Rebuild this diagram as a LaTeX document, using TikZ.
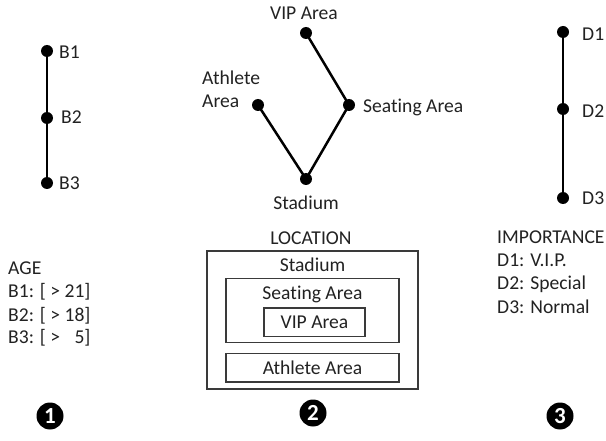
\documentclass[tikz,border=0pt]{standalone}
\usepackage{fontspec}
\setmainfont{Carlito}[Ligatures=NoCommon]
\definecolor{txt}{HTML}{222222}
\definecolor{boxc}{HTML}{3A3A3A}
\begin{document}
\begin{tikzpicture}[x=1pt,y=-1pt,
  dot/.style={circle,fill=black,inner sep=0pt,minimum size=12pt},
  edge/.style={line width=2.5pt},
  lbl/.style={font=\fontsize{19.6}{23}\selectfont,text=txt,inner sep=0pt},
  boxline/.style={draw=boxc,line width=1.5pt},
  badge/.style={circle,fill=black,text=white,inner sep=0pt,minimum size=27pt,font=\fontsize{23}{23}\selectfont\bfseries}]
\useasboundingbox (0,0) rectangle (606,441);
\fill[white] (0,0) rectangle (606,441);

% ---------- graph 1 ----------
\node[dot] (b1) at (47,51) {};
\node[dot] (b2) at (47,118) {};
\node[dot] (b3) at (47,183) {};
\draw[edge] (b1.center) -- (b2.center) -- (b3.center);
\node[lbl,anchor=base west] (b1l) at (59,58.5) {B1};
\node[lbl,anchor=base west] (b2l) at (61,124) {B2};
\node[lbl,anchor=base west] (b3l) at (59,189.5) {B3};

% ---------- graph 2 ----------
\node[dot] (vip) at (306,33) {};
\node[dot] (seat) at (349,105) {};
\node[dot] (ath) at (258,105) {};
\node[dot] (stad) at (306,179) {};
\draw[edge] (vip.center) -- (seat.center) -- (stad.center) -- (ath.center);
\node[lbl,anchor=base] (vipl) at (304,19.5) {VIP Area};
\node[lbl,anchor=base west] (seatl) at (363,112.5) {Seating Area};
\node[lbl,anchor=base west] (athl1) at (202,85) {Athlete};
\node[lbl,anchor=base west] (athl2) at (202,108) {Area};
\node[lbl,anchor=base] (stadl) at (306,209.5) {Stadium};

% ---------- graph 3 ----------
\node[dot] (d1) at (563,32) {};
\node[dot] (d2) at (563,109) {};
\node[dot] (d3) at (563,198) {};
\draw[edge] (d1.center) -- (d2.center) -- (d3.center);
\node[lbl,anchor=base west] (d1l) at (582,41) {D1};
\node[lbl,anchor=base west] (d2l) at (582,118) {D2};
\node[lbl,anchor=base west] (d3l) at (582,205) {D3};

% ---------- AGE list ----------
\node[lbl,anchor=base west] (age) at (8,275) {AGE};
\node[lbl,anchor=base west] (age1) at (8,298) {B1: [ > 21]};
\node[lbl,anchor=base west] (age2) at (8,321) {B2: [ > 18]};
\node[lbl,anchor=base west] (age3) at (8,344) {B3: [ > \phantom{2}5]};

% ---------- LOCATION boxes ----------
\node[lbl,anchor=base] (loc) at (311,244.5) {LOCATION};
\draw[boxline] (207,251) rectangle (418,389);
\draw[boxline] (226,278.5) rectangle (399,342.5);
\draw[boxline] (264,308) rectangle (365,336.5);
\draw[boxline] (226,353.5) rectangle (399,382);
\node[lbl,anchor=base] (stadb) at (312.5,271.5) {Stadium};
\node[lbl,anchor=base] (seatb) at (312.5,299.5) {Seating Area};
\node[lbl,anchor=base] (vipb) at (314.5,329) {VIP Area};
\node[lbl,anchor=base] (athb) at (312.5,374.5) {Athlete Area};

% ---------- IMPORTANCE list ----------
\node[lbl,anchor=base west] (imp) at (497,244) {IMPORTANCE};
\node[lbl,anchor=base west] (imp1) at (497,267) {D1: V.I.P.};
\node[lbl,anchor=base west] (imp2) at (497,290) {D2: Special};
\node[lbl,anchor=base west] (imp3) at (497,313) {D3: Normal};

% ---------- badges ----------
\node[badge] (n1) at (50,416) {1};
\node[badge] (n2) at (313,413) {2};
\node[badge] (n3) at (560,416) {3};
\end{tikzpicture}
\end{document}
